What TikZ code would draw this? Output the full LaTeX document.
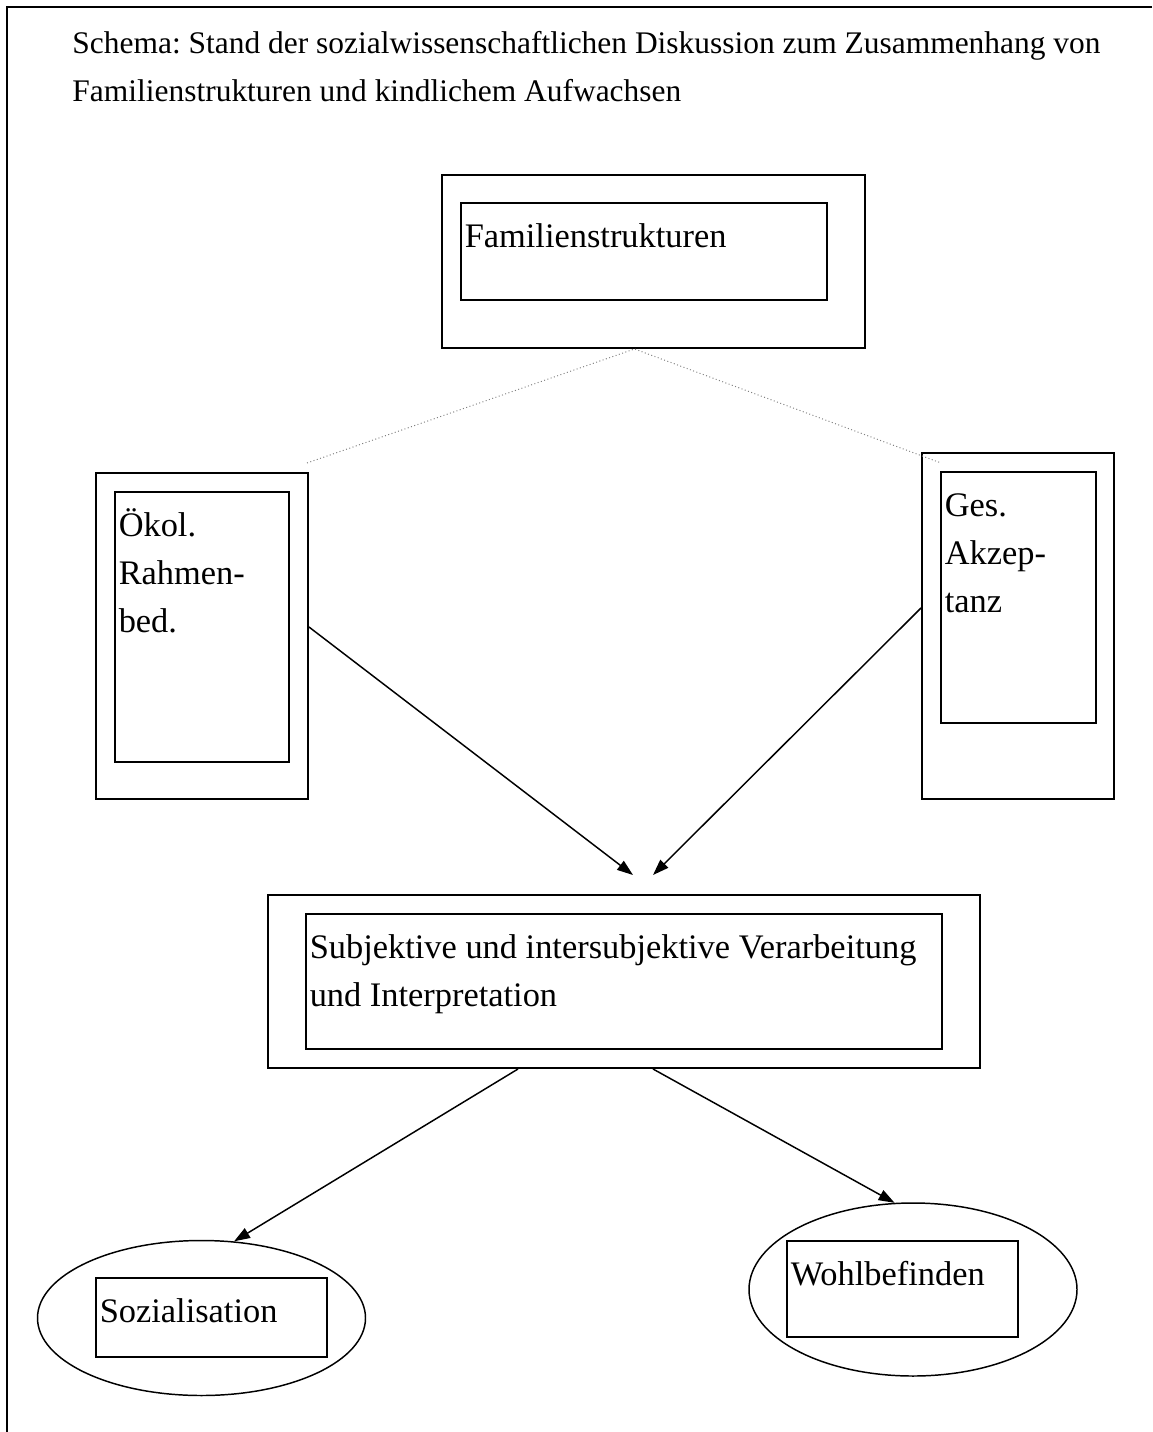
\documentclass[tikz,border=0pt]{standalone}
\usepackage{fontspec}
\setmainfont{Liberation Serif}
\usetikzlibrary{arrows.meta,shapes.geometric}

\newcommand{\px}{0.407pt}
\newcommand{\firstline}{\rule{0pt}{18.3pt}}
\frenchspacing

\begin{document}
\begin{tikzpicture}[x=\px,y=-\px,>={Triangle[length=6.5pt,width=4.5pt]},
		outerbox/.style={draw,rectangle,line width=0.8pt,inner sep=0pt},
		innerbox/.style={draw,rectangle,line width=0.6pt,inner sep=0pt},
		outerell/.style={draw,ellipse,line width=0.6pt,inner sep=0pt},
		boxtext/.style={anchor=north west,inner sep=0pt,xshift=4*\px,align=left,font=\fontsize{14}{19.5}\selectfont},
		link/.style={->,line width=0.6pt},
		faint/.style={densely dotted,line width=0.4pt,gray}]
	\useasboundingbox (0,0) rectangle (1152,1432);
	% frame
	\draw[line width=1.2pt] (1152,7) -- (7,7) -- (7,1432);
	\node[anchor=north west,inner sep=0pt,align=left,font=\fontsize{12.8}{19.5}\selectfont] (title) at (72,23.5)
		{\rule{0pt}{12pt}Schema: Stand der sozialwissenschaftlichen Diskussion zum Zusammenhang von\\Familienstrukturen und kindlichem Aufwachsen};

	% boxes
	\node[outerbox,minimum width=423*\px,minimum height=173*\px] (famO) at (653.5,261.5) {};
	\node[innerbox,minimum width=366*\px,minimum height=97*\px] (famI) at (644,251.5) {};
	\node[boxtext] (famT) at (famI.north west) {\firstline Familienstrukturen};

	\node[outerbox,minimum width=212*\px,minimum height=326*\px] (oekO) at (202,636) {};
	\node[innerbox,minimum width=174*\px,minimum height=270*\px] (oekI) at (202,627) {};
	\node[boxtext] (oekT) at (oekI.north west) {\firstline Ökol.\\Rahmen-\\bed.};

	\node[outerbox,minimum width=192*\px,minimum height=346*\px] (gesO) at (1018,626) {};
	\node[innerbox,minimum width=155*\px,minimum height=251*\px] (gesI) at (1018.5,597.5) {};
	\node[boxtext] (gesT) at (gesI.north west) {\firstline Ges.\\Akzep-\\tanz};

	\node[outerbox,minimum width=712*\px,minimum height=173*\px] (subO) at (624,981.5) {};
	\node[innerbox,minimum width=636*\px,minimum height=135*\px] (subI) at (624,981.5) {};
	\node[boxtext] (subT) at (subI.north west) {\firstline Subjektive und intersubjektive Verarbeitung\\und Interpretation};

	\node[outerell,minimum width=328*\px,minimum height=155*\px] (sozE) at (201.5,1318) {};
	\node[innerbox,minimum width=231*\px,minimum height=79*\px] (sozI) at (211.5,1317.5) {};
	\node[boxtext] (sozT) at (sozI.north west) {\firstline Sozialisation};

	\node[outerell,minimum width=328*\px,minimum height=173*\px] (wohlE) at (913,1289.5) {};
	\node[innerbox,minimum width=231*\px,minimum height=96*\px] (wohlI) at (902.5,1289) {};
	\node[boxtext] (wohlT) at (wohlI.north west) {\firstline Wohlbefinden};

	% free ends
	\coordinate (dotL) at (307,463);
	\coordinate (dotR) at (941,463);
	\coordinate (tipL) at (633,875);
	\coordinate (tipR) at (653,875);

	\draw[faint] (dotL) -- ([xshift=-19*\px]famO.south) -- (dotR);
	\draw[link] ([yshift=9*\px]oekO.east) -- (tipL);
	\draw[link] ([yshift=18*\px]gesO.west) -- (tipR);
	\draw[link] ([xshift=-106*\px]subO.south) -- (sozE.67);
	\draw[link] ([xshift=29*\px]subO.south) -- (wohlE.102);
\end{tikzpicture}
\end{document}
